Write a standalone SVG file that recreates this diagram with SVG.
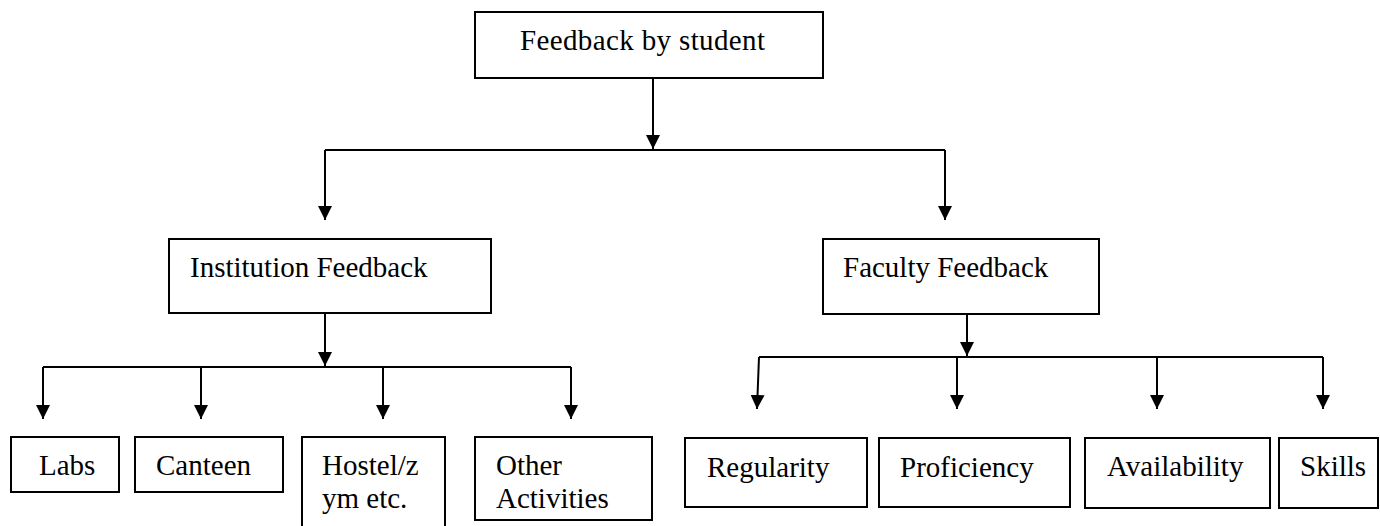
<svg xmlns="http://www.w3.org/2000/svg" width="1380" height="526" viewBox="0 0 1380 526">
<style>
.box{fill:#fff;stroke:#000;stroke-width:2}
.lbl{font-family:"Liberation Serif","Times New Roman",serif;font-size:29px;fill:#000}
.ln{fill:none;stroke:#000;stroke-width:2}
.ar{fill:none;stroke:#000;stroke-width:2;marker-end:url(#ah)}
</style>
<defs>
<marker id="ah" viewBox="0 0 14 14" markerWidth="14" markerHeight="14" refX="14" refY="7" orient="auto" markerUnits="userSpaceOnUse">
<path d="M0,0 L14,7 L0,14 z" fill="#000"/>
</marker>
</defs>
<rect width="1380" height="526" fill="#fff"/>
<g id="connectors">
<path class="ar" d="M653,78 V149"/>
<path class="ln" d="M325,150 H945"/>
<path class="ar" d="M325,150 V220"/>
<path class="ar" d="M945,150 V220"/>
<path class="ar" d="M325,313 V366"/>
<path class="ln" d="M43,367 H571"/>
<path class="ar" d="M43,367 V419"/>
<path class="ar" d="M201,367 V419"/>
<path class="ar" d="M383,367 V419"/>
<path class="ar" d="M571,367 V419"/>
<path class="ar" d="M967,314 V356"/>
<path class="ln" d="M759,357 H1323"/>
<path class="ar" d="M759,357 L757,409"/>
<path class="ar" d="M957,357 V409"/>
<path class="ar" d="M1157,357 V409"/>
<path class="ar" d="M1323,357 V409"/>
</g>
<g id="n-root"><rect class="box" x="475" y="12" width="348" height="66"/><text class="lbl" x="520" y="50" textLength="245" lengthAdjust="spacing">Feedback by student</text></g>
<g id="n-institution"><rect class="box" x="169" y="239" width="322" height="74"/><text class="lbl" x="190" y="277">Institution Feedback</text></g>
<g id="n-faculty"><rect class="box" x="823" y="239" width="276" height="75"/><text class="lbl" x="843" y="277">Faculty Feedback</text></g>
<g id="n-labs"><rect class="box" x="11" y="437" width="108" height="55"/><text class="lbl" x="39" y="475">Labs</text></g>
<g id="n-canteen"><rect class="box" x="135" y="437" width="148" height="55"/><text class="lbl" x="156" y="475">Canteen</text></g>
<g id="n-hostel"><rect class="box" x="302" y="437" width="143" height="100"/><text class="lbl" x="322" y="475">Hostel/z</text><text class="lbl" x="322" y="508">ym etc.</text></g>
<g id="n-other"><rect class="box" x="475" y="437" width="177" height="83"/><text class="lbl" x="496" y="475">Other</text><text class="lbl" x="496" y="508">Activities</text></g>
<g id="n-regularity"><rect class="box" x="685" y="438" width="182" height="69"/><text class="lbl" x="707" y="477">Regularity</text></g>
<g id="n-proficiency"><rect class="box" x="879" y="438" width="191" height="69"/><text class="lbl" x="900" y="477">Proficiency</text></g>
<g id="n-availability"><rect class="box" x="1085" y="438" width="185" height="70"/><text class="lbl" x="1107" y="476">Availability</text></g>
<g id="n-skills"><rect class="box" x="1279" y="438" width="99" height="70"/><text class="lbl" x="1300" y="476">Skills</text></g>
</svg>
